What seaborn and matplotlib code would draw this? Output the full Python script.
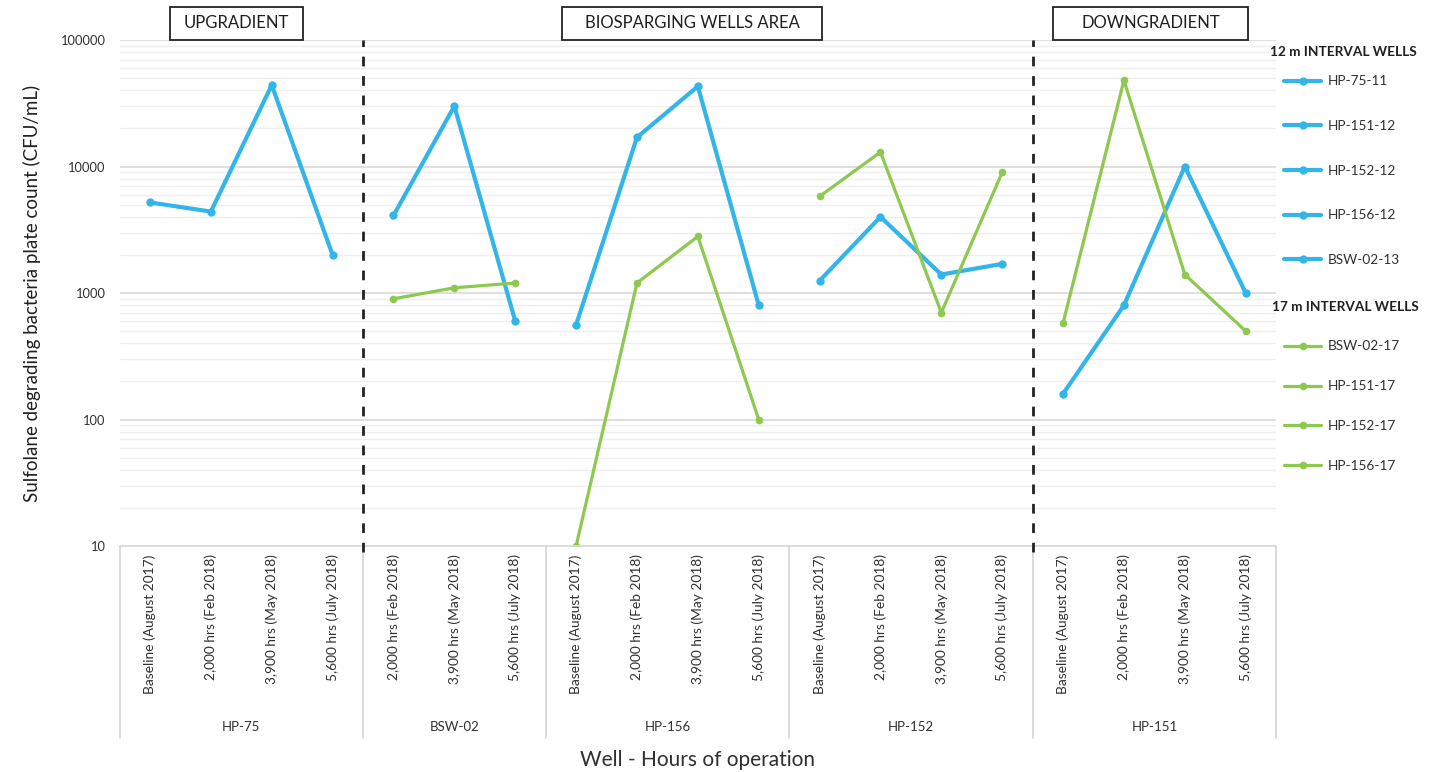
import matplotlib
matplotlib.use("Agg")
import matplotlib.pyplot as plt
import matplotlib.transforms as mtransforms
from matplotlib.patches import Rectangle
from matplotlib.lines import Line2D
from matplotlib.ticker import LogLocator, FixedLocator, NullFormatter, FuncFormatter
import numpy as np
import pandas as pd
import seaborn as sns

# ---- categories -------------------------------------------------------------
wells = ["HP-75", "BSW-02", "HP-156", "HP-152", "HP-151"]
periods_full = ["Baseline (August 2017)", "2,000 hrs (Feb 2018)",
                "3,900 hrs (May 2018)", "5,600 hrs (July 2018)"]
periods_bsw = ["2,000 hrs (Feb 2018)", "3,900 hrs (May 2018)",
               "5,600 hrs (July 2018)"]
well_periods = [periods_full, periods_bsw, periods_full, periods_full, periods_full]

# ---- plate counts (CFU/mL) ----------------------------------------------------
hp75_11 = [5200, 4400, 44000, 2000]
hp151_12 = [160, 800, 10000, 1000]
hp152_12 = [1250, 4000, 1400, 1700]
hp156_12 = [560, 17000, 43000, 800]
bsw02_13 = [4100, 30000, 600]

bsw02_17 = [900, 1100, 1200]
hp151_17 = [580, 48000, 1400, 500]
hp152_17 = [5800, 13000, 700, 9000]
hp156_17 = [10, 1200, 2800, 100]

series_12 = [("HP-75-11", "HP-75", hp75_11),
             ("HP-151-12", "HP-151", hp151_12),
             ("HP-152-12", "HP-152", hp152_12),
             ("HP-156-12", "HP-156", hp156_12),
             ("BSW-02-13", "BSW-02", bsw02_13)]
series_17 = [("BSW-02-17", "BSW-02", bsw02_17),
             ("HP-151-17", "HP-151", hp151_17),
             ("HP-152-17", "HP-152", hp152_17),
             ("HP-156-17", "HP-156", hp156_17)]

BLUE = "#33B5EA"
GREEN = "#8DC94F"

# category positions along the x axis
start = {}
pos = 0
tick_labels = []
for w, pers in zip(wells, well_periods):
    start[w] = pos
    tick_labels.extend(pers)
    pos += len(pers)
n_cat = pos
bounds = np.cumsum([0] + [len(p) for p in well_periods]) - 0.5

rows = []
for group, items in [("12 m", series_12), ("17 m", series_17)]:
    for name, well, vals in items:
        for i, v in enumerate(vals):
            rows.append({"series": name, "interval": group, "well": well,
                         "pos": start[well] + i, "count": v})
df = pd.DataFrame(rows)

sns.set_theme(style="white")
plt.rcParams["font.family"] = ["Lato", "DejaVu Sans"]

fig = plt.figure(figsize=(14.49, 7.72), dpi=100)
ax = fig.add_axes([0.0825, 0.2927, 0.7982, 0.6555])

ax.set_yscale("log")
ax.set_ylim(10, 100000)
ax.set_xlim(-0.5, n_cat - 0.5)

# grid
ax.yaxis.set_major_locator(FixedLocator([10, 100, 1000, 10000, 100000]))
ax.yaxis.set_minor_locator(LogLocator(base=10, subs=np.arange(2, 10)))
ax.yaxis.set_major_formatter(FuncFormatter(lambda v, p: f"{int(v)}"))
ax.yaxis.set_minor_formatter(NullFormatter())
ax.grid(True, which="major", axis="y", color="#d9d9d9", lw=1.2)
ax.grid(True, which="minor", axis="y", color="#efefef", lw=1.0)
ax.set_axisbelow(True)

# lines
for name, well, vals in series_12:
    d = df[df.series == name]
    sns.lineplot(data=d, x="pos", y="count", ax=ax, color=BLUE, lw=3.0,
                 marker="o", markersize=6, markeredgewidth=0, estimator=None,
                 sort=False, legend=False)
for name, well, vals in series_17:
    d = df[df.series == name]
    sns.lineplot(data=d, x="pos", y="count", ax=ax, color=GREEN, lw=2.3,
                 marker="o", markersize=5.5, markeredgewidth=0, estimator=None,
                 sort=False, legend=False)

# zone separators
for b in [bounds[1], bounds[4]]:
    ax.axvline(b, color="#222222", lw=2, ls=(0, (3.5, 3.5)), ymin=-0.012, ymax=1.0,
               clip_on=False, zorder=5)

for s in ["top", "left", "right"]:
    ax.spines[s].set_visible(False)
ax.spines["bottom"].set_color("#d9d9d9")
ax.spines["bottom"].set_linewidth(1.2)

# x tick labels
ax.set_xticks(range(n_cat))
ax.set_xticklabels(tick_labels, rotation=90, fontsize=9.9, color="#303030",
                   va="top", ha="center")
ax.tick_params(axis="x", length=0, pad=6)
ax.tick_params(axis="y", which="both", length=0, pad=10, labelsize=9.3,
               labelcolor="#303030")
ax.set_xlabel("")

trans = mtransforms.blended_transform_factory(ax.transData, ax.transAxes)
for b in bounds:
    ax.add_line(Line2D([b, b], [0, -0.379], transform=trans, color="#d4d4d4",
                       lw=1.2, clip_on=False))
for w, pers in zip(wells, well_periods):
    c = start[w] + (len(pers) - 1) / 2
    ax.text(c, -0.358, w, transform=trans, ha="center", va="center",
            fontsize=9.5, color="#303030")

ax.set_ylabel("Sulfolane degrading bacteria plate count (CFU/mL)",
              fontsize=13.5, color="#202020")
ax.yaxis.set_label_coords(-0.068, 0.5)

fig.text(698 / 1449, 1 - 760 / 772, "Well - Hours of operation",
         ha="center", va="center", fontsize=15, color="#303030")

# zone header boxes
W, H = 1449, 772
for label, x0, x1 in [("UPGRADIENT", 170, 303),
                      ("BIOSPARGING WELLS AREA", 562, 822),
                      ("DOWNGRADIENT", 1053, 1248)]:
    fig.patches.append(Rectangle((x0 / W, 1 - 40 / H), (x1 - x0) / W, 33 / H,
                                 transform=fig.transFigure, facecolor="white",
                                 edgecolor="#222222", lw=1.3, zorder=6))
    fig.text((x0 + x1) / 2 / W, 1 - 23.5 / H, label, ha="center", va="center",
             fontsize=12, color="#202020", zorder=7)

# legend
def handles(items, color, lw, ms):
    return [Line2D([], [], color=color, lw=lw, marker="o", markersize=ms,
                   markeredgewidth=0, label=n) for n, _, _ in items]

fig.text(1270 / W, 1 - 52 / H, "12 m INTERVAL WELLS", fontsize=9.8,
         fontweight="bold", ha="left", va="center", color="#202020")
leg1 = fig.legend(handles=handles(series_12, BLUE, 3.0, 6), loc="upper left",
                  bbox_to_anchor=(1279 / W, 1 - 70 / H), frameon=False,
                  fontsize=9.8, handlelength=2.7, handletextpad=0.45,
                  labelspacing=2.4, borderaxespad=0, labelcolor="#303030")
fig.text(1272 / W, 1 - 307 / H, "17 m INTERVAL WELLS", fontsize=9.8,
         fontweight="bold", ha="left", va="center", color="#202020")
leg2 = fig.legend(handles=handles(series_17, GREEN, 2.3, 5.5), loc="upper left",
                  bbox_to_anchor=(1279 / W, 1 - 335 / H), frameon=False,
                  fontsize=9.8, handlelength=2.7, handletextpad=0.45,
                  labelspacing=2.05, borderaxespad=0, labelcolor="#303030")

fig.savefig("out.png", dpi=100, facecolor="white")
